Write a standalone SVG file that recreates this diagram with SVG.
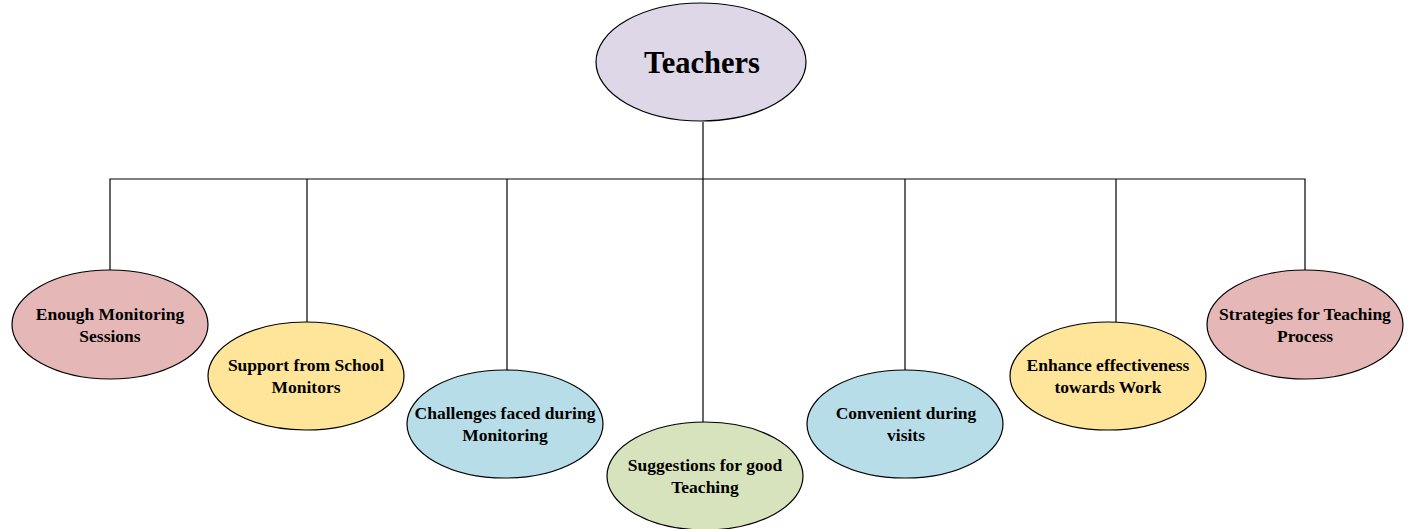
<svg xmlns="http://www.w3.org/2000/svg" width="1410" height="529" viewBox="0 0 1410 529">
<style>
.n{stroke:#000;stroke-width:1.2}
.t{font-family:"Liberation Serif","Times New Roman",serif;font-weight:bold;font-size:17.5px;fill:#000;text-anchor:middle}
.c{stroke:#000;stroke-width:1.2;fill:none}
.pink{fill:#E5B8B7}.yel{fill:#FEE599}.blue{fill:#B7DDE8}.green{fill:#D7E3BC}.lav{fill:#DDD7E7}
</style>
<rect width="1410" height="529" fill="#fff"/>
<g id="connectors">
<line class="c" x1="703" y1="122" x2="703" y2="422"/>
<polyline class="c" points="110,271 110,179 1305,179 1305,271"/>
<line class="c" x1="307" y1="179" x2="307" y2="322"/>
<line class="c" x1="507" y1="179" x2="507" y2="370"/>
<line class="c" x1="905" y1="179" x2="905" y2="370"/>
<line class="c" x1="1116" y1="179" x2="1116" y2="322"/>
</g>
<g id="teachers">
<ellipse class="n lav" cx="701" cy="62" rx="105" ry="59"/>
<text class="t" x="702" y="73" style="font-size:30.5px">Teachers</text>
</g>
<g id="enough">
<ellipse class="n pink" cx="110" cy="324.5" rx="98" ry="54.5"/>
<text class="t" x="110" y="320">Enough Monitoring</text>
<text class="t" x="110" y="342">Sessions</text>
</g>
<g id="support">
<ellipse class="n yel" cx="306" cy="376" rx="98" ry="54"/>
<text class="t" x="306" y="371">Support from School</text>
<text class="t" x="306" y="393">Monitors</text>
</g>
<g id="challenges">
<ellipse class="n blue" cx="505" cy="424" rx="98" ry="54"/>
<text class="t" x="505" y="419">Challenges faced during</text>
<text class="t" x="505" y="441">Monitoring</text>
</g>
<g id="suggestions">
<ellipse class="n green" cx="705" cy="476" rx="98" ry="54"/>
<text class="t" x="705" y="471">Suggestions for good</text>
<text class="t" x="705" y="493">Teaching</text>
</g>
<g id="convenient">
<ellipse class="n blue" cx="905" cy="424" rx="98" ry="54"/>
<text class="t" x="906" y="419">Convenient during</text>
<text class="t" x="906" y="441">visits</text>
</g>
<g id="enhance">
<ellipse class="n yel" cx="1108" cy="376" rx="98" ry="54"/>
<text class="t" x="1108" y="371">Enhance effectiveness</text>
<text class="t" x="1108" y="393">towards Work</text>
</g>
<g id="strategies">
<ellipse class="n pink" cx="1305" cy="324.5" rx="98" ry="54.5"/>
<text class="t" x="1305" y="320">Strategies for Teaching</text>
<text class="t" x="1305" y="342">Process</text>
</g>
</svg>
